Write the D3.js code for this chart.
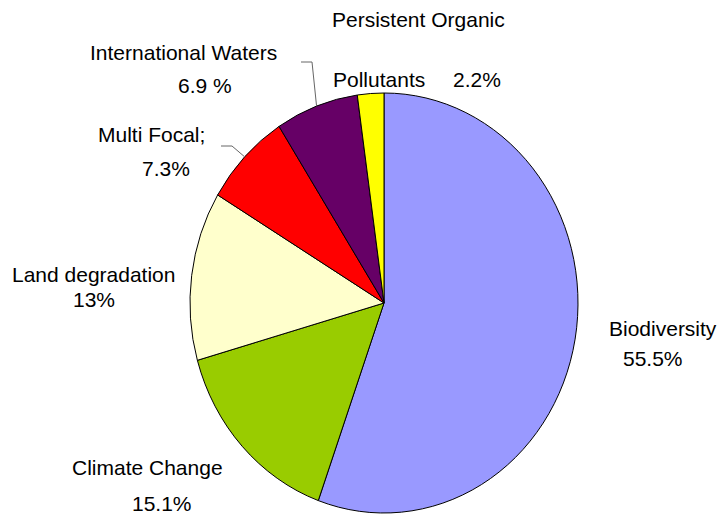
<!DOCTYPE html>
<html>
<head>
<meta charset="utf-8">
<script src="https://cdn.jsdelivr.net/npm/d3@7"></script>
<style>
  body { margin: 0; background: #fff; }
  text { font-family: "Liberation Sans", Arial, sans-serif; font-size: 21px; fill: #000; }
</style>
</head>
<body>
<div class="pie-chart"></div>
<script>
// data
const categories = ["Biodiversity", "Climate Change", "Land degradation", "Multi Focal", "International Waters", "Persistent Organic Pollutants"];
const values = [55.5, 15.1, 13, 7.3, 6.9, 2.2];
const valueLabels = ["55.5%", "15.1%", "13%", "7.3%", "6.9 %", "2.2%"];
const nameLines = [["Biodiversity"], ["Climate Change"], ["Land degradation"], ["Multi Focal;"], ["International Waters"], ["Persistent Organic", "Pollutants"]];
const colors = ["#9999ff", "#99cc00", "#ffffcc", "#ff0000", "#660066", "#ffff00"];

// layout: label positions (left x, baseline y)
const namePos = [[[609, 336]], [[72, 475]], [[12, 282]], [[98, 142]], [[90, 60]], [[332, 27], [333, 87]]];
const valuePos = [[623, 366], [132, 511], [73, 307], [142, 176], [178, 93], [453, 87]];
const leaders = { 3: [[221, 146], [232, 146]], 4: [[301, 62], [312, 62]] };

const width = 719, height = 515;
const cx = 384, cy = 303, rx = 194, ry = 210;

const svg = d3.select(".pie-chart")
    .append("svg")
    .attr("width", width)
    .attr("height", height);

const pie = d3.pie().sort(null).value(d => d);
const arcs = pie(values);
const arc = d3.arc().innerRadius(0).outerRadius(rx);

svg.append("g")
    .attr("transform", `translate(${cx},${cy}) scale(1,${ry / rx})`)
    .selectAll("path")
    .data(arcs)
    .enter()
    .append("path")
    .attr("d", arc)
    .attr("fill", (d, i) => colors[i])
    .attr("stroke", "#000")
    .attr("stroke-width", 1)
    .attr("vector-effect", "non-scaling-stroke");

// leader lines to slice edge
Object.keys(leaders).forEach(k => {
    const a = arcs[k];
    const mid = (a.startAngle + a.endAngle) / 2;
    const edge = [cx + Math.sin(mid) * rx, cy - Math.cos(mid) * ry];
    const pts = leaders[k].concat([edge]);
    svg.append("path")
        .attr("d", d3.line()(pts))
        .attr("fill", "none")
        .attr("stroke", "#666")
        .attr("stroke-width", 1);
});

// labels
categories.forEach((c, i) => {
    nameLines[i].forEach((line, j) => {
        svg.append("text")
            .attr("x", namePos[i][j][0])
            .attr("y", namePos[i][j][1])
            .text(line);
    });
    svg.append("text")
        .attr("x", valuePos[i][0])
        .attr("y", valuePos[i][1])
        .text(valueLabels[i]);
});
</script>
</body>
</html>
